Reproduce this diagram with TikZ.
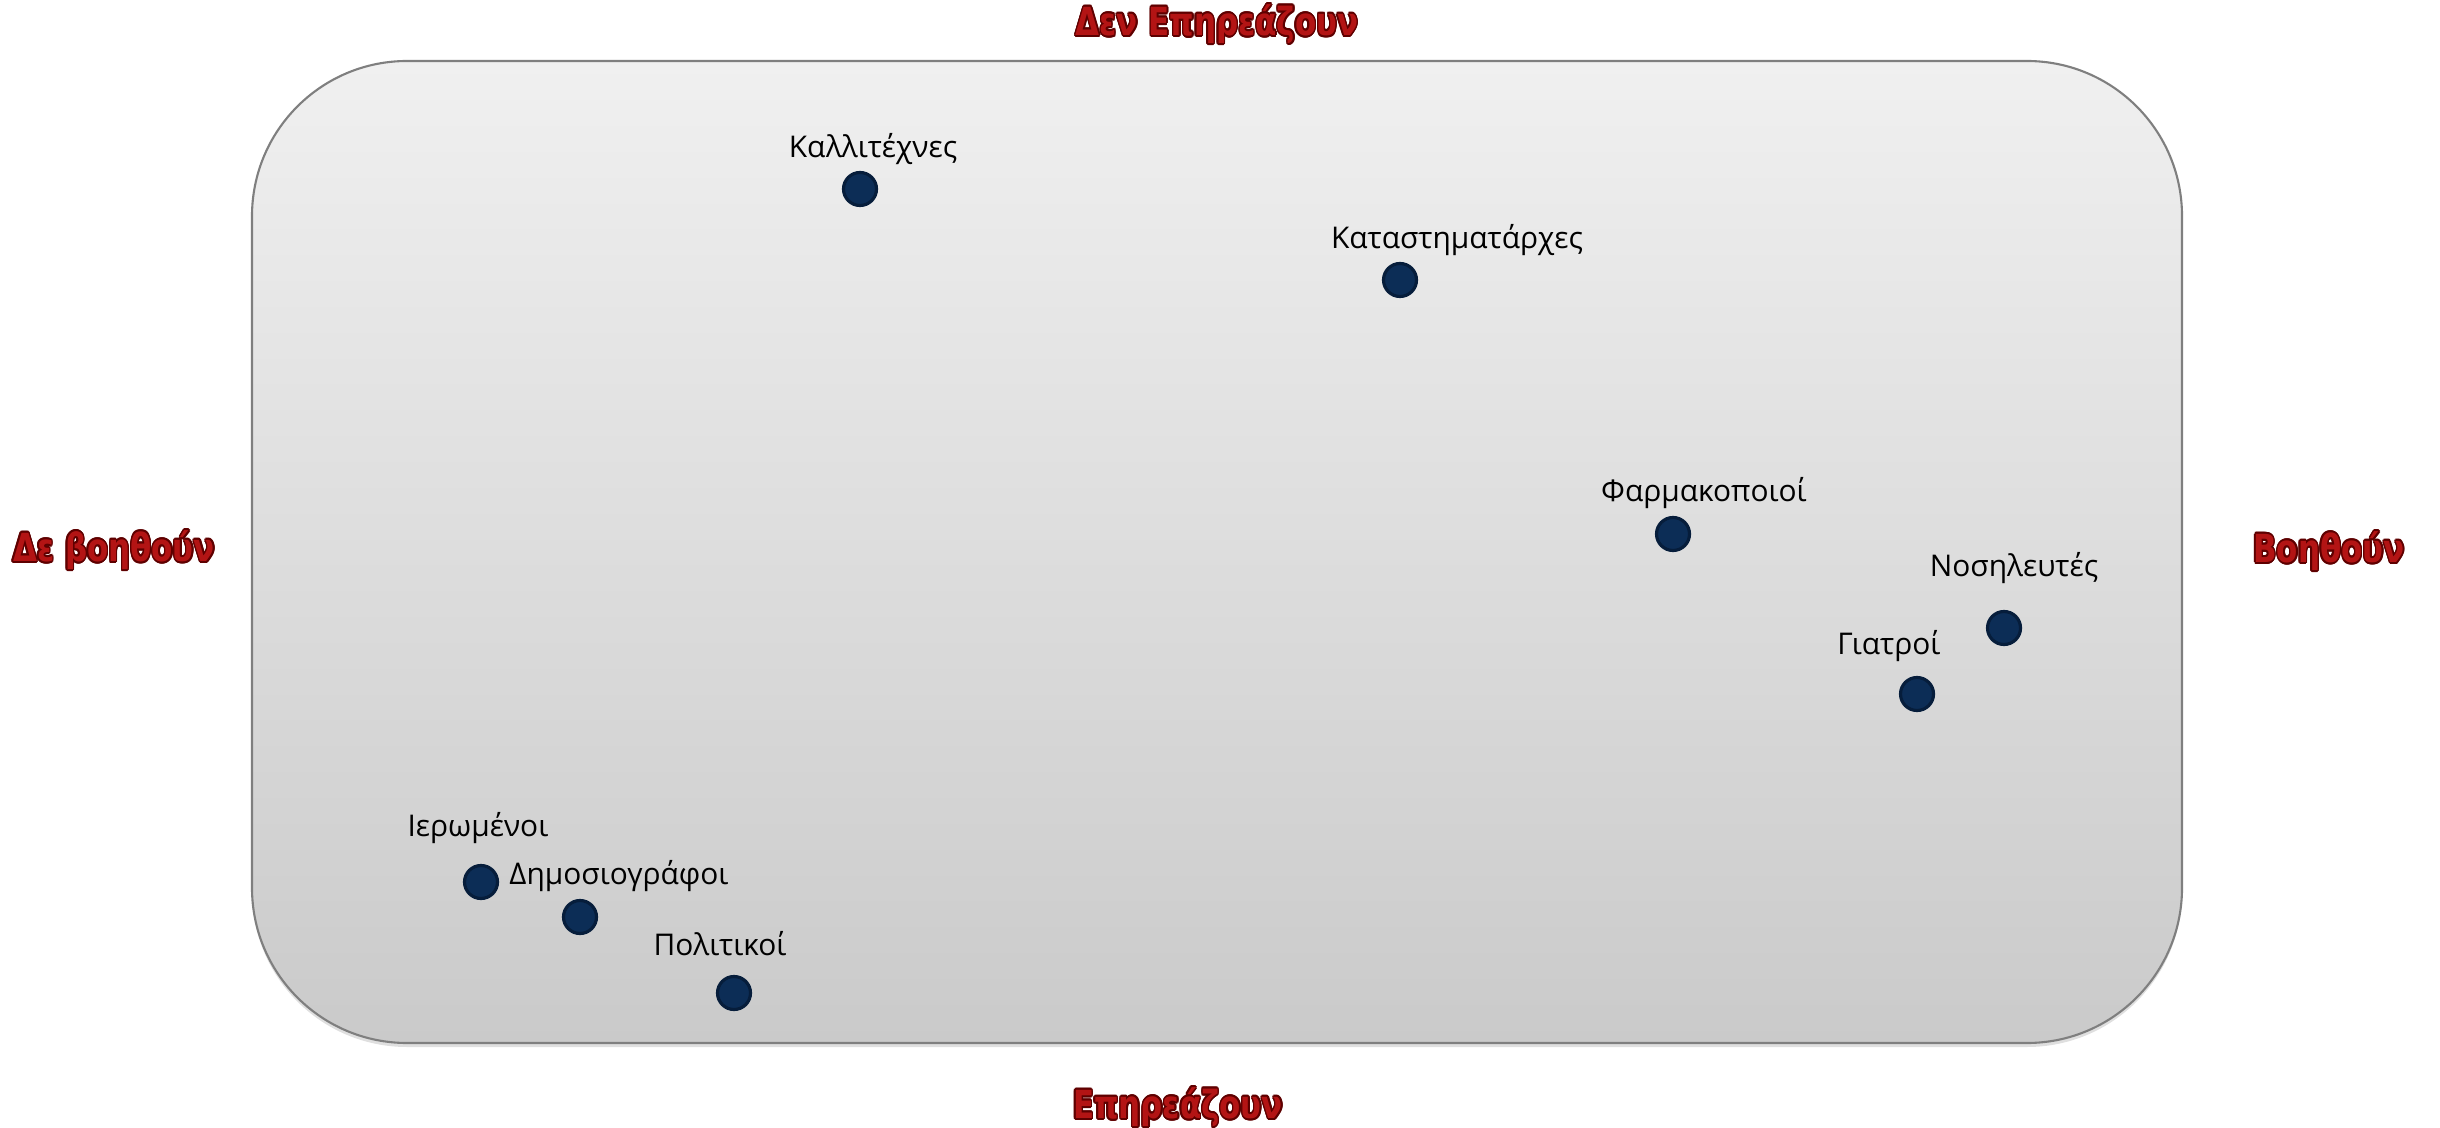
\documentclass[tikz,border=0pt]{standalone}
\usepackage{fontspec}
\setmainfont{Open Sans}
\newfontfamily\titlefont{DejaVu Sans}
\usepackage{contour}
\contourlength{0.5pt}
\usetikzlibrary{shadows}
\definecolor{boxtop}{HTML}{F0F0F0}
\definecolor{boxbot}{HTML}{CACACA}
\definecolor{boxline}{HTML}{7F7F7F}
\definecolor{dotfill}{HTML}{0C2D56}
\definecolor{dotline}{HTML}{061D3B}
\definecolor{axisred}{HTML}{B31414}
\definecolor{axisdark}{HTML}{5E0000}
\tikzset{
  axislabel/.style={font=\titlefont\bfseries\fontsize{11}{13}\selectfont,text=axisred},
  grouplabel/.style={font=\fontsize{8.5}{10}\selectfont,text=black,yshift=-0.03cm},
  groupdot/.style={circle,fill=dotfill,draw=dotline,line width=0.9pt,minimum size=0.33cm,inner sep=0pt}
}
\newcommand{\axistext}[1]{\scalebox{0.8}[1]{\contour{axisdark}{#1}}}
\begin{document}
\begin{tikzpicture}[x=0.01cm,y=-0.01cm]
   \useasboundingbox (0,0) rectangle (2440,1128);
   % the map
   \shade[top color=boxtop,bottom color=boxbot,draw=boxline,line width=0.6pt,
     rounded corners=1.55cm,drop shadow={shadow xshift=0pt,shadow yshift=-0.04cm,opacity=0.25}]
     (252,61) rectangle (2182,1043);
   % axes
   \node[axislabel] (noinfl) at (1217,25) {\axistext{Δεν Επηρεάζουν}};
   \node[axislabel] (infl) at (1178,1108) {\axistext{Επηρεάζουν}};
   \node[axislabel] (nohelp) at (114,551) {\axistext{Δε βοηθούν}};
   \node[axislabel] (help) at (2329,552) {\axistext{Βοηθούν}};
   % groups
   \foreach \x/\y/\lx/\ly/\n/\t in {
     860/189/873/146/artists/Καλλιτέχνες,
     1400/280/1457/237/shops/Καταστηματάρχες,
     1673/534/1704/490/pharm/Φαρμακοποιοί,
     2004/628/2014/565/nurses/Νοσηλευτές,
     1917/694/1889/643/doctors/Γιατροί,
     481/882/478/825/priests/Ιερωμένοι,
     580/917/619/873/journ/Δημοσιογράφοι,
     734/993/720/941/polit/Πολιτικοί} {
     \node[groupdot] (\n-dot) at (\x,\y) {};
     \node[grouplabel] (\n) at (\lx,\ly) {\t};
   }
\end{tikzpicture}
\end{document}
